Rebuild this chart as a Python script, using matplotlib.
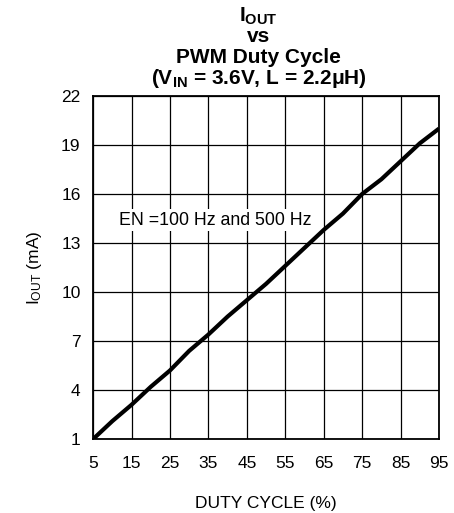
import matplotlib
matplotlib.use('Agg')
import matplotlib.pyplot as plt

plt.rcParams['font.family'] = ['Liberation Sans', 'DejaVu Sans']
plt.rcParams['mathtext.fontset'] = 'custom'
plt.rcParams['mathtext.rm'] = 'Liberation Sans'
plt.rcParams['mathtext.bf'] = 'Liberation Sans:bold'

# data
duty = [5, 10, 15, 20, 25, 30, 35, 40, 45, 50, 55, 60, 65, 70, 75, 80, 85, 90, 95]
iout = [1.0, 2.1, 3.1, 4.2, 5.2, 6.4, 7.4, 8.5, 9.5, 10.5, 11.6, 12.7, 13.8, 14.8, 16.0, 16.9, 18.0, 19.1, 20.0]
xticks = [5, 15, 25, 35, 45, 55, 65, 75, 85, 95]
yticks = [1, 4, 7, 10, 13, 16, 19, 22]

fig = plt.figure(figsize=(4.54, 5.13), dpi=100)
ax = fig.add_axes([0.205, 0.144, 0.762, 0.669])

ax.plot(duty, iout, color='black', linewidth=3.0, solid_capstyle='butt')
ax.set_xlim(5, 95)
ax.set_ylim(1, 22)
ax.set_xticks(xticks)
ax.set_yticks(yticks)
ax.tick_params(length=0, labelsize=12.5)
ax.tick_params(axis='x', pad=12)
ax.tick_params(axis='y', pad=9)
ax.grid(True, color='black', linewidth=0.9)
for s in ax.spines.values():
    s.set_linewidth(1.3)

ax.text(11.8, 14.4, 'EN =100 Hz and 500 Hz', fontsize=12.8, va='center', ha='left',
        bbox=dict(facecolor='white', edgecolor='none', pad=2))

ax.set_xlabel('DUTY CYCLE (%)', fontsize=12.5, labelpad=18)
ax.set_ylabel(r'$\mathrm{I_{OUT}}$ (mA)', fontsize=12.5, labelpad=12)

# title, one line at a time
title_lines = ['$\\mathbf{I_{OUT}}$', 'vs', 'PWM Duty Cycle',
               '($\\mathbf{V_{IN}}$ = 3.6V, L = 2.2μH)']
title_y = [0.957, 0.918, 0.878, 0.836]
for txt, yy in zip(title_lines, title_y):
    fig.text(0.570, yy, txt, fontsize=15, fontweight='bold', ha='center', va='baseline')

fig.savefig('out.png', dpi=100)
